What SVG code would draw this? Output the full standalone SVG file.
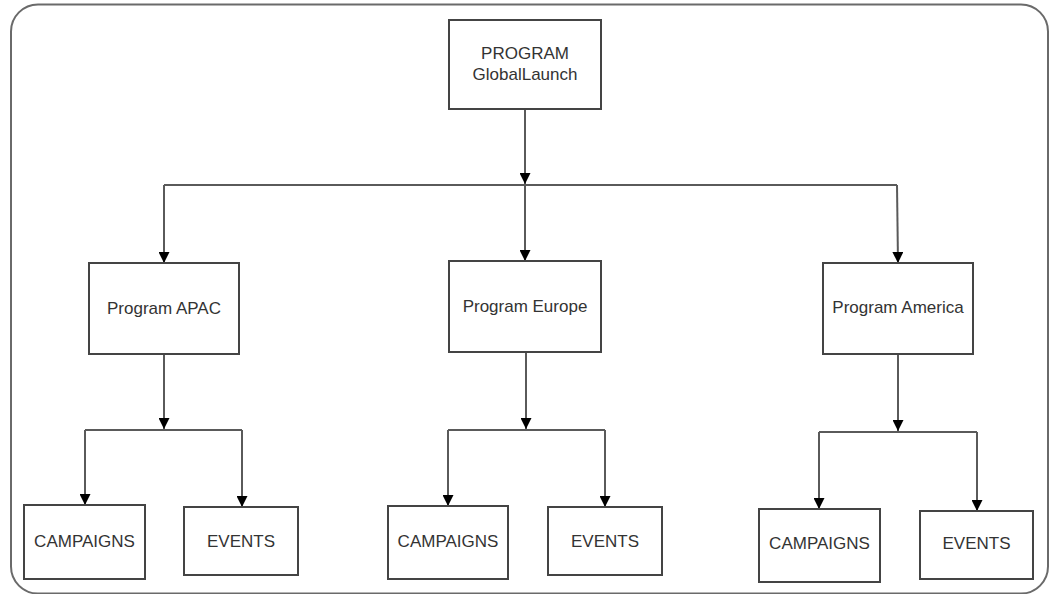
<svg xmlns="http://www.w3.org/2000/svg" width="1051" height="594" viewBox="0 0 1051 594">
  <defs>
    <marker id="arrow" viewBox="0 0 10 10" refX="10" refY="5" markerWidth="11" markerHeight="11" markerUnits="userSpaceOnUse" orient="auto">
      <path d="M0,0 L10,5 L0,10 z" fill="#000"/>
    </marker>
    <style>
      .frame { fill: #fff; stroke: #6a6a6a; stroke-width: 2; }
      .box { fill: #fff; stroke: #444; stroke-width: 2; }
      .label { font-family: "Liberation Sans", Arial, sans-serif; font-size: 17px; fill: #333; text-anchor: middle; }
      .wire { fill: none; stroke: #5a5a5a; stroke-width: 2; }
      .arrowed { marker-end: url(#arrow); }
    </style>
  </defs>

  <rect class="frame" x="11" y="4.5" width="1037" height="589" rx="27" ry="27"/>

  <!-- connectors -->
  <g id="connectors">
    <!-- top level -->
    <path class="wire arrowed" d="M525,109 V184"/>
    <path class="wire" d="M164,185 H897"/>
    <path class="wire arrowed" d="M164,185 V263"/>
    <path class="wire arrowed" d="M525,185 V261"/>
    <path class="wire arrowed" d="M897,185 L898,263"/>

    <!-- APAC -->
    <path class="wire arrowed" d="M164,354 V429"/>
    <path class="wire" d="M85,430 H242"/>
    <path class="wire arrowed" d="M85,430 V505"/>
    <path class="wire arrowed" d="M242,430 V507"/>

    <!-- Europe -->
    <path class="wire arrowed" d="M526,352 V429"/>
    <path class="wire" d="M448,430 H605"/>
    <path class="wire arrowed" d="M448,430 V506"/>
    <path class="wire arrowed" d="M605,430 V507"/>

    <!-- America -->
    <path class="wire arrowed" d="M898,354 V431"/>
    <path class="wire" d="M819,432 H977"/>
    <path class="wire arrowed" d="M819,432 V509"/>
    <path class="wire arrowed" d="M977,432 V511"/>
  </g>

  <g id="node-global">
    <rect class="box" x="449" y="20" width="152" height="89"/>
    <text class="label" x="525" y="59">PROGRAM</text>
    <text class="label" x="525" y="80">GlobalLaunch</text>
  </g>

  <g id="node-apac">
    <rect class="box" x="89" y="263" width="150" height="91"/>
    <text class="label" x="164" y="314">Program APAC</text>
  </g>

  <g id="node-europe">
    <rect class="box" x="449" y="261" width="152" height="91"/>
    <text class="label" x="525" y="312">Program Europe</text>
  </g>

  <g id="node-america">
    <rect class="box" x="823" y="263" width="150" height="91"/>
    <text class="label" x="898" y="313">Program America</text>
  </g>

  <g id="node-apac-campaigns">
    <rect class="box" x="24" y="505" width="121" height="74"/>
    <text class="label" x="84.5" y="547">CAMPAIGNS</text>
  </g>

  <g id="node-apac-events">
    <rect class="box" x="184" y="507" width="114" height="68"/>
    <text class="label" x="241" y="547">EVENTS</text>
  </g>

  <g id="node-europe-campaigns">
    <rect class="box" x="388" y="506" width="120" height="73"/>
    <text class="label" x="448" y="547">CAMPAIGNS</text>
  </g>

  <g id="node-europe-events">
    <rect class="box" x="548" y="507" width="114" height="68"/>
    <text class="label" x="605" y="547">EVENTS</text>
  </g>

  <g id="node-america-campaigns">
    <rect class="box" x="759" y="509" width="121" height="73"/>
    <text class="label" x="819.5" y="549">CAMPAIGNS</text>
  </g>

  <g id="node-america-events">
    <rect class="box" x="920" y="511" width="113" height="68"/>
    <text class="label" x="976.5" y="549">EVENTS</text>
  </g>
</svg>
